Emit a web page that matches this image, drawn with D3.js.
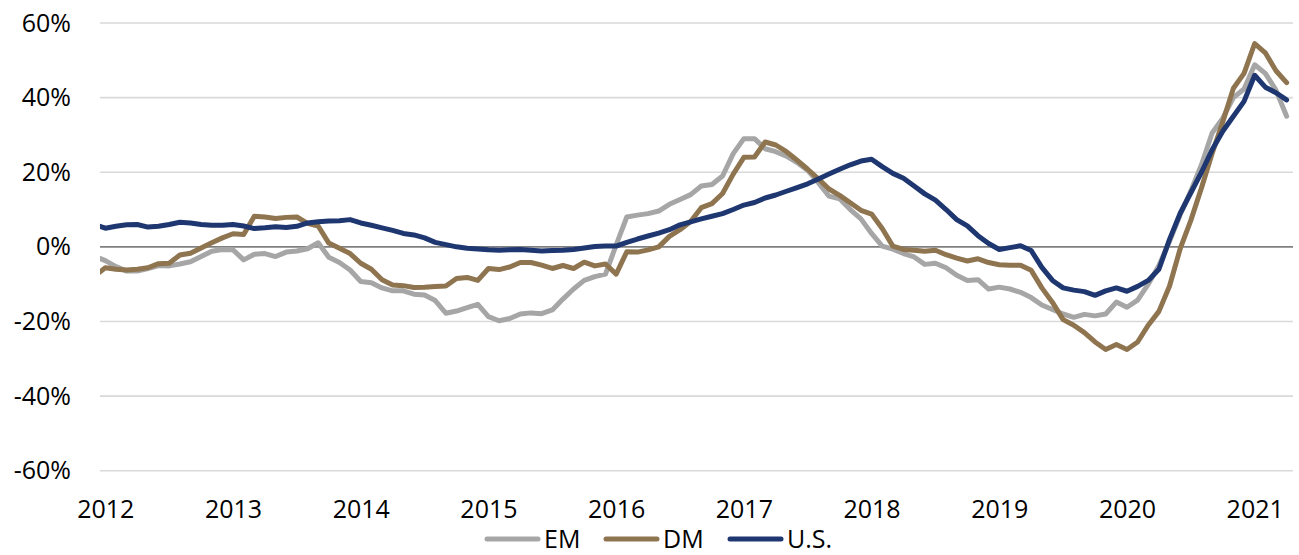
<!DOCTYPE html>
<html>
<head>
<meta charset="utf-8">
<script src="https://cdn.jsdelivr.net/npm/d3@7"></script>
<style>
    body { margin: 0; background: #fff; }
    text { font-family: "Open Sans", sans-serif; fill: #000; }
</style>
</head>
<body>
<div id="chart-container"></div>
<script>
//Monthly values, first point is Dec 2011, last is Apr 2021
var years = ["2012", "2013", "2014", "2015", "2016", "2017", "2018", "2019", "2020", "2021"];
var yTicks = [-60, -40, -20, 0, 20, 40, 60];
var seriesNames = ["EM", "DM", "U.S."];

var em = [-2.5, -3.7, -5.3, -6.5, -6.5, -5.8, -5.0, -5.1, -4.6, -4.0,
    -2.6, -1.2, -0.7, -0.8, -3.5, -2.0, -1.8, -2.6, -1.4, -1.1,
    -0.5, 1.1, -2.8, -4.2, -6.2, -9.3, -9.6, -11.0, -11.8, -11.8,
    -12.7, -12.9, -14.4, -17.8, -17.2, -16.3, -15.4, -18.7, -19.8, -19.2,
    -18.0, -17.7, -17.9, -16.9, -14.0, -11.3, -9.0, -8.0, -7.3, 0.5,
    8.0, 8.5, 8.9, 9.6, 11.4, 12.7, 14.0, 16.3, 16.7, 19.0,
    25.0, 29.0, 29.0, 26.3, 25.5, 24.3, 22.6, 20.5, 17.2, 13.6,
    12.9, 10.0, 7.5, 3.6, 0.2, -0.6, -1.8, -2.7, -4.7, -4.4,
    -5.6, -7.6, -9.0, -8.8, -11.3, -10.8, -11.3, -12.2, -13.6, -15.6,
    -16.8, -18.0, -18.9, -18.1, -18.5, -18.0, -14.8, -16.2, -14.3, -10.0,
    -5.0, 1.5, 8.6, 15.0, 22.0, 30.5, 34.5, 40.0, 42.3, 48.8,
    46.5, 42.0, 35.0];

var dm = [-7.8, -5.6, -6.0, -6.2, -6.0, -5.6, -4.5, -4.4, -2.2, -1.7,
    -0.3, 1.1, 2.4, 3.5, 3.3, 8.2, 8.0, 7.6, 7.9, 8.0,
    6.3, 5.6, 1.0, -0.4, -1.8, -4.4, -6.0, -8.8, -10.2, -10.4,
    -10.9, -10.8, -10.6, -10.5, -8.5, -8.2, -9.0, -5.8, -6.1, -5.4,
    -4.2, -4.2, -4.9, -5.8, -5.0, -5.8, -4.1, -5.1, -4.6, -7.3,
    -1.3, -1.4, -0.8, 0.0, 2.8, 4.6, 6.8, 10.5, 11.6, 14.3,
    19.5, 24.0, 24.1, 28.1, 27.3, 25.5, 23.2, 20.8, 18.2, 15.5,
    13.8, 11.8, 9.8, 8.8, 4.9, 0.2, -0.7, -0.9, -1.2, -0.9,
    -2.1, -3.0, -3.8, -3.2, -4.2, -4.8, -4.9, -4.9, -6.3, -11.0,
    -14.9, -19.5, -21.0, -23.0, -25.5, -27.5, -26.2, -27.5, -25.5, -21.0,
    -17.3, -10.5, -0.5, 7.1, 15.8, 25.0, 33.5, 42.5, 46.5, 54.5,
    52.0, 47.2, 44.0];

var us = [6.0, 5.0, 5.5, 5.9, 6.0, 5.3, 5.5, 6.0, 6.6, 6.4,
    6.0, 5.8, 5.8, 6.0, 5.6, 4.9, 5.1, 5.4, 5.2, 5.5,
    6.4, 6.7, 6.9, 7.0, 7.3, 6.4, 5.8, 5.1, 4.4, 3.6,
    3.2, 2.4, 1.2, 0.6, 0.0, -0.4, -0.6, -0.8, -0.9, -0.8,
    -0.7, -0.9, -1.1, -1.0, -0.9, -0.7, -0.3, 0.1, 0.2, 0.2,
    1.2, 2.1, 2.9, 3.7, 4.6, 5.9, 6.7, 7.5, 8.2, 8.9,
    10.0, 11.2, 11.9, 13.1, 13.9, 14.9, 15.9, 16.9, 18.2, 19.5,
    20.8, 22.0, 23.0, 23.5, 21.5, 19.7, 18.4, 16.3, 14.2, 12.5,
    10.0, 7.3, 5.6, 3.0, 0.9, -0.7, -0.2, 0.3, -1.0, -5.5,
    -9.0, -11.0, -11.6, -12.0, -13.0, -11.8, -11.0, -11.9, -10.6, -9.0,
    -6.0, 2.0, 9.0, 14.5, 20.0, 26.0, 31.0, 35.0, 39.0, 46.0,
    42.8, 41.3, 39.4];

var colors = ["#a6a6a6", "#8f7450", "#1f3770"];

function lineChart(){
    var w = 1299;
    var h = 555;
    var left = 100;
    var right = 1293;
    var top = 23;
    var bottom = 470.7;

    //Scales, x is month index (0 = Dec 2011)
    var xScale = d3.scaleLinear()
        .domain([0.5, 112.6])
        .range([left, right]);

    var yScale = d3.scaleLinear()
        .domain([-60, 60])
        .range([bottom, top]);

    //Create svg element
    var svg = d3.select("#chart-container").append("svg")
        .attr("width", w).attr("height", h);

    svg.append("clipPath").attr("id", "plot-clip")
        .append("rect")
        .attr("x", left).attr("y", 0)
        .attr("width", right - left).attr("height", h);

    //Gridlines
    svg.append("g")
        .selectAll("line")
        .data(yTicks)
        .enter()
        .append("line")
        .attr("x1", left).attr("x2", right)
        .attr("y1", function(d){ return yScale(d); })
        .attr("y2", function(d){ return yScale(d); })
        .attr("stroke", function(d){ return d === 0 ? "#808080" : "#d9d9d9"; })
        .attr("stroke-width", 1.6);

    //Y axis labels
    var yAxis = d3.axisLeft(yScale)
        .tickValues(yTicks)
        .tickSize(0)
        .tickPadding(0)
        .tickFormat(function(d){ return d + "%"; });

    var gy = svg.append("g")
        .attr("transform", "translate(71,0)")
        .call(yAxis);
    gy.select(".domain").remove();
    gy.selectAll("text")
        .style("font-family", "'Open Sans', sans-serif")
        .style("font-size", "25px")
        .attr("fill", "#000");

    //X axis labels, one per January
    var xAxis = d3.axisBottom(xScale)
        .tickValues(years.map(function(d, i){ return 1 + 12 * i; }))
        .tickSize(0)
        .tickPadding(0)
        .tickFormat(function(d, i){ return years[i]; });

    var gx = svg.append("g")
        .attr("transform", "translate(0,500)")
        .call(xAxis);
    gx.select(".domain").remove();
    gx.selectAll("text")
        .style("font-family", "'Open Sans', sans-serif")
        .style("font-size", "25px")
        .attr("fill", "#000")
        .attr("dy", 0)
        .attr("y", 18);

    //Lines
    var line = d3.line()
        .x(function(d, i){ return xScale(i); })
        .y(function(d){ return yScale(d); });

    var series = [em, dm, us];

    svg.append("g")
        .attr("clip-path", "url(#plot-clip)")
        .selectAll("path")
        .data(series)
        .enter()
        .append("path")
        .attr("d", line)
        .attr("fill", "none")
        .attr("stroke", function(d, i){ return colors[i]; })
        .attr("stroke-width", 5)
        .attr("stroke-linejoin", "round")
        .attr("stroke-linecap", "round");

    //Legend
    var legendX = [485, 604, 728];
    var legend = svg.append("g")
        .selectAll("g")
        .data(seriesNames)
        .enter()
        .append("g")
        .attr("transform", function(d, i){ return "translate(" + legendX[i] + ",539)"; });

    legend.append("line")
        .attr("x1", 2).attr("x2", 53)
        .attr("y1", 0).attr("y2", 0)
        .attr("stroke", function(d, i){ return colors[i]; })
        .attr("stroke-width", 5)
        .attr("stroke-linecap", "round");

    legend.append("text")
        .attr("x", 59)
        .attr("y", 9)
        .style("font-size", "25px")
        .text(function(d){ return d; });
}

lineChart();
</script>
</body>
</html>
